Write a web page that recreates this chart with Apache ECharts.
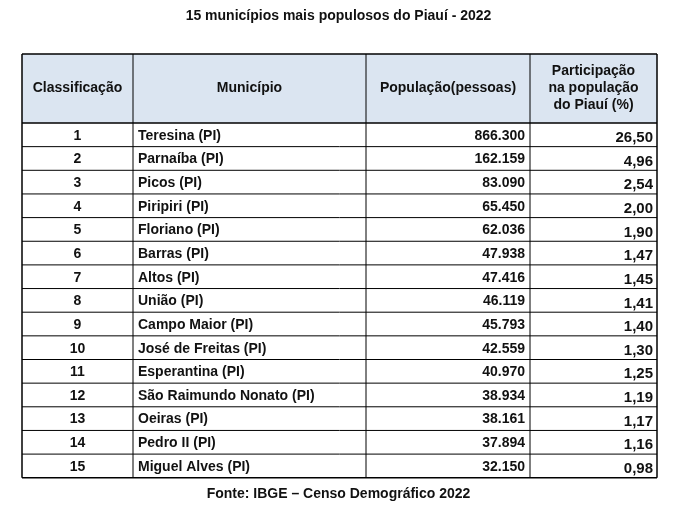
<!DOCTYPE html>
<html>
<head>
<meta charset="utf-8">
<script src="https://cdn.jsdelivr.net/npm/echarts@6/dist/echarts.min.js"></script>
</head>
<body style="margin:0;background:#fff">
<div id="main" style="width:677px;height:514px;"></div>
<script>
var titulo = '15 municípios mais populosos do Piauí - 2022';
var fonte = 'Fonte: IBGE – Censo Demográfico 2022';
var cabecalho = ['Classificação', 'Município', 'População(pessoas)', 'Participação\nna população\ndo Piauí (%)'];
var classificacao = ['1','2','3','4','5','6','7','8','9','10','11','12','13','14','15'];
var municipios = ['Teresina (PI)','Parnaíba (PI)','Picos (PI)','Piripiri (PI)','Floriano (PI)','Barras (PI)','Altos (PI)','União (PI)','Campo Maior (PI)','José de Freitas (PI)','Esperantina (PI)','São Raimundo Nonato (PI)','Oeiras (PI)','Pedro II (PI)','Miguel Alves (PI)'];
var populacao = ['866.300','162.159','83.090','65.450','62.036','47.938','47.416','46.119','45.793','42.559','40.970','38.934','38.161','37.894','32.150'];
var participacao = ['26,50','4,96','2,54','2,00','1,90','1,47','1,45','1,41','1,40','1,30','1,25','1,19','1,17','1,16','0,98'];

var font = '"Liberation Sans Narrow", "Liberation Sans", Arial, sans-serif';
var colX = [22, 133, 366, 530, 657];
var top0 = 54, headH = 69, rowH = 23.65;
var g = [];

g.push({type:'text', left:'center', top:9, style:{text:titulo, font:'bold 14px ' + font, fill:'#111'}});
g.push({type:'rect', shape:{x:colX[0], y:top0, width:colX[4]-colX[0], height:headH}, style:{fill:'#dbe5f1'}});
for (var c = 0; c < 4; c++) {
  g.push({type:'text', x:(colX[c]+colX[c+1])/2, y:top0+headH/2,
    style:{text:cabecalho[c], font:'bold 14px ' + font, fill:'#111', align:'center', verticalAlign:'middle', lineHeight:17}});
}
var bottom = top0 + headH + rowH*classificacao.length;
for (var r = 0; r < classificacao.length; r++) {
  var cy = top0 + headH + rowH*r + rowH/2 + 1;
  g.push({type:'text', x:(colX[0]+colX[1])/2, y:cy, style:{text:classificacao[r], font:'bold 14px '+font, fill:'#111', align:'center', verticalAlign:'middle'}});
  g.push({type:'text', x:colX[1]+5, y:cy, style:{text:municipios[r], font:'bold 14px '+font, fill:'#111', align:'left', verticalAlign:'middle'}});
  g.push({type:'text', x:colX[3]-5, y:cy, style:{text:populacao[r], font:'bold 14px '+font, fill:'#111', align:'right', verticalAlign:'middle'}});
  g.push({type:'text', x:colX[4]-4, y:cy+2, style:{text:participacao[r], font:'bold 15px '+font, fill:'#111', align:'right', verticalAlign:'middle'}});
}
// linhas da grade
for (var r = 0; r <= classificacao.length + 1; r++) {
  var y = r === 0 ? top0 : top0 + headH + rowH*(r-1);
  g.push({type:'line', shape:{x1:colX[0], y1:y, x2:colX[4], y2:y}, style:{stroke:'#000', lineWidth:(r<=1||r===classificacao.length+1)?1.5:1}});
}
for (var c = 0; c < colX.length; c++) {
  g.push({type:'line', shape:{x1:colX[c], y1:top0, x2:colX[c], y2:bottom}, style:{stroke:'#000', lineWidth:(c===0||c===4)?1.5:1}});
}
g.push({type:'text', left:'center', top:487, style:{text:fonte, font:'bold 14px ' + font, fill:'#111'}});

var chart = echarts.init(document.getElementById('main'));
chart.setOption({animation:false, graphic:g});
</script>
</body>
</html>
